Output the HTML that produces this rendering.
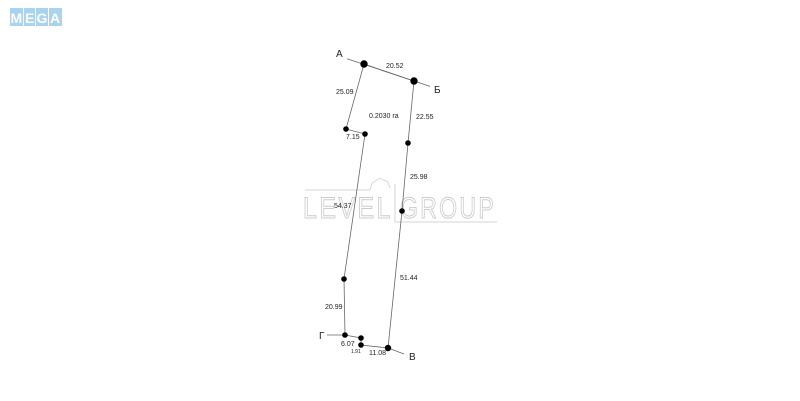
<!DOCTYPE html>
<html><head><meta charset="utf-8"><style>
html,body{margin:0;padding:0;background:#fff;width:800px;height:401px;overflow:hidden}
</style></head><body>
<svg width="800" height="401" viewBox="0 0 800 401" xmlns="http://www.w3.org/2000/svg" font-family="Liberation Sans, DejaVu Sans, sans-serif">
<g font-weight="bold" font-size="14" fill="#fff">
<rect x="10" y="8" width="13" height="18" fill="#a9d3ee"/><rect x="24" y="8" width="11" height="18" fill="#a9d3ee"/>
<rect x="36" y="8" width="12" height="18" fill="#a9d3ee"/><rect x="49" y="8" width="13" height="18" fill="#a9d3ee"/>
<text x="10.5" y="23">M</text><text x="25" y="23">E</text><text x="36.5" y="23">G</text><text x="50" y="23">A</text>
</g>
<g stroke="#ddd" stroke-width="1.2" fill="none">
<path d="M305 190 H370 L372 183 L380 178 L388 182 L390 188"/>
<path d="M395 184 V222 H497"/>
</g>
<g font-size="30" fill="none" stroke="#ccc" stroke-width="1" letter-spacing="3">
<text x="303" y="218" textLength="90" lengthAdjust="spacingAndGlyphs">LEVEL</text>
<text x="400" y="218" textLength="96" lengthAdjust="spacingAndGlyphs">GROUP</text>
</g>
<g stroke="#666" stroke-width="0.8" fill="none">
<line x1="347" y1="58.7" x2="430" y2="86.4"/>
<line x1="327" y1="335" x2="345" y2="335"/>
<line x1="388" y1="348" x2="404" y2="354"/>
<polygon points="364,64 414,81 408,143 402,211 388,348 361,345 361,338 345,335 344,279 365,134 346,129"/>
</g>
<g fill="#000">
<circle cx="364" cy="64" r="3.7"/><circle cx="414" cy="81" r="3.7"/>
<circle cx="346" cy="129" r="2.8"/><circle cx="365" cy="134" r="2.8"/>
<circle cx="408" cy="143" r="2.8"/><circle cx="402" cy="211" r="2.8"/>
<circle cx="344" cy="279" r="2.8"/><circle cx="345" cy="335" r="2.8"/>
<circle cx="361" cy="338" r="2.8"/><circle cx="361" cy="345" r="2.8"/>
<circle cx="388" cy="348" r="3.2"/>
</g>
<g font-size="7" fill="#222">
<text x="386" y="68">20.52</text>
<text x="336" y="94">25.09</text>
<text x="369" y="118">0.2030 га</text>
<text x="416" y="119">22.55</text>
<text x="346" y="139">7.15</text>
<text x="410" y="179">25.98</text>
<text x="334" y="208">54.37</text>
<text x="400" y="280">51.44</text>
<text x="325" y="309">20.99</text>
<text x="341" y="346">6.07</text>
<text x="351" y="353" font-size="5">1.91</text>
<text x="369" y="355">11.08</text>
</g>
<g font-size="10" fill="#222">
<text x="336" y="57">А</text>
<text x="434" y="93">Б</text>
<text x="319" y="339">Г</text>
<text x="409" y="360">В</text>
</g>
</svg>
</body></html>
